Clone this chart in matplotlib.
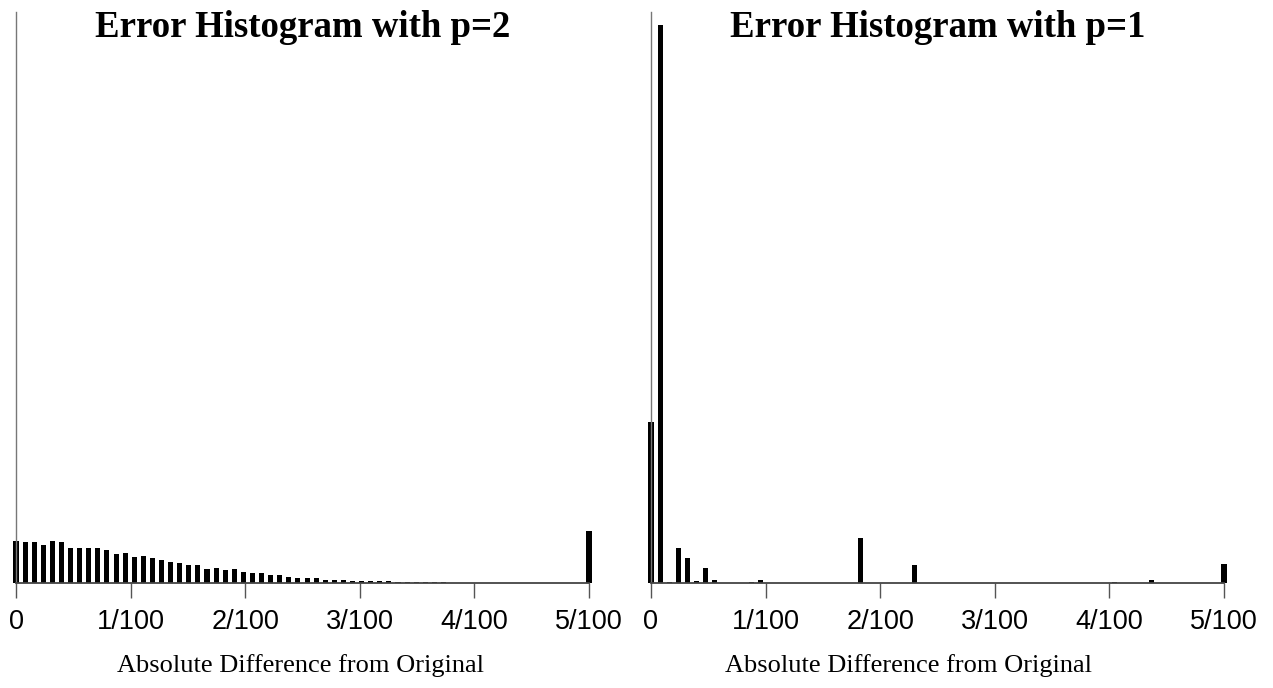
import numpy as np
import matplotlib

matplotlib.use("Agg")
import matplotlib.pyplot as plt

# 误差直方图数据（从图上读取的近似高度，最后一格为 >=5/100 的溢出格）
n_bins = 64
x_max = 0.05

counts_p2 = [
    42, 41.3, 40.7, 37.7, 41.7, 40.7, 35.3, 35.3, 35, 35,
    32.7, 29.3, 30.3, 26, 26.7, 24.7, 23.3, 21, 19.7, 18,
    17.7, 14, 15, 12.7, 13.7, 11.3, 10, 9.7, 7.7, 7.7,
    6.3, 5.3, 5.3, 4.7, 3.3, 3.3, 3.3, 2.3, 2.3, 2.3,
    2, 2.3, 1, 1.3, 1.3, 0.7, 0.7, 0.6, 0.5, 0.5,
    0.5, 0.4, 0.4, 0.5, 0.4, 0.3, 0.4, 0.5, 0.3, 0.5,
    0.3, 0.2, 0.2, 51.7,
]

counts_p1 = [
    161, 558, 1, 35.3, 24.7, 1.7, 15.3, 3.3, 0.3, 0,
    0.3, 0.7, 2.7, 0, 0, 0, 0.3, 0, 0.3, 0.3,
    0, 0, 0, 45, 0, 0, 0, 0, 0, 18.3,
    0.3, 0, 0.2, 0, 0, 0.2, 0.2, 0, 0, 0,
    0, 0, 0, 0, 0, 0, 0.2, 0, 0, 0,
    0, 0.7, 0, 0, 0, 3.3, 0, 0, 0, 0,
    0, 0, 0, 19.3,
]

tick_values = [0, 0.01, 0.02, 0.03, 0.04, 0.05]
tick_labels = ["0", "1/100", "2/100", "3/100", "4/100", "5/100"]

titles = ["Error Histogram with p=2", "Error Histogram with p=1"]
xlabel = "Absolute Difference from Original"

SERIF = ["Liberation Serif", "DejaVu Serif"]
SANS = ["Liberation Sans", "DejaVu Sans"]


def _draw_hist(ax, counts, title, label_x):
    step = x_max / (n_bins - 1)
    centers = np.arange(len(counts)) * step
    ax.bar(centers, counts, width=step * 0.55, color="black",
           align="center", clip_on=False, linewidth=0)

    ax.set_xlim(0, x_max)
    ax.set_ylim(0, 571)

    for side in ["top", "right"]:
        ax.spines[side].set_visible(False)
    ax.spines["left"].set_color("#777777")
    ax.spines["left"].set_linewidth(1.0)
    ax.spines["bottom"].set_color("#444444")
    ax.spines["bottom"].set_linewidth(1.3)

    ax.set_yticks([])
    ax.set_xticks(tick_values)
    ax.set_xticklabels(tick_labels, family=SANS, fontsize=19.5)
    ax.tick_params(axis="x", direction="out", length=11, width=1.0,
                   color="#555555", pad=8)

    ax.set_xlabel(xlabel, family=SERIF, fontsize=19)
    ax.xaxis.set_label_coords(label_x, -0.125)
    # 标题放在坐标轴内部顶端
    ax.text(0.5, 0.972, title, transform=ax.transAxes, ha="center",
            va="center", family=SERIF, fontsize=26.5, fontweight="bold")


fig = plt.figure(figsize=(12.73, 6.88), dpi=100)
ax_left = fig.add_axes([16 / 1273, 105 / 688, 573 / 1273, 571 / 688])
ax_right = fig.add_axes([651 / 1273, 105 / 688, 573 / 1273, 571 / 688])

_draw_hist(ax_left, counts_p2, titles[0], 0.497)
_draw_hist(ax_right, counts_p1, titles[1], 0.449)

fig.savefig("out.png", dpi=100)
plt.close(fig)
